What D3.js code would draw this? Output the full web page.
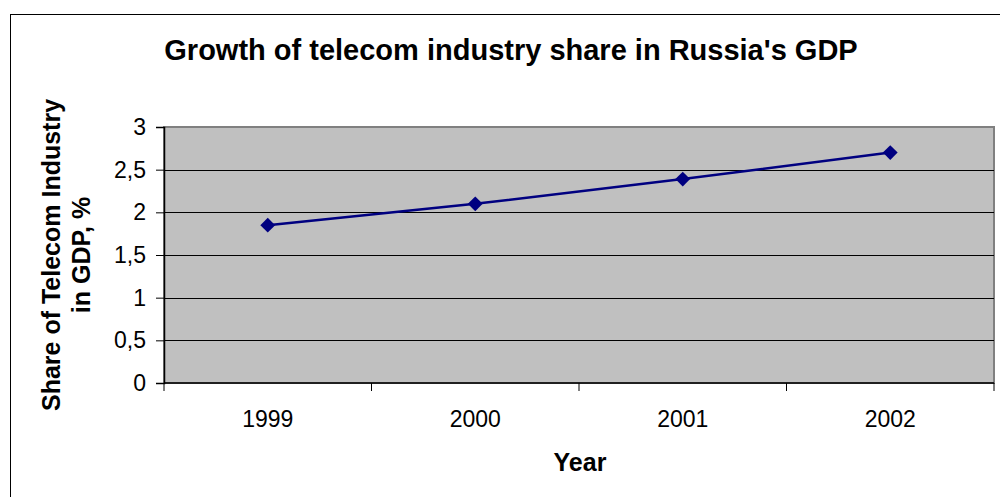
<!DOCTYPE html>
<html>
<head>
<meta charset="utf-8">
<script src="https://cdn.jsdelivr.net/npm/d3@7"></script>
<style>
  body { margin: 0; background: #fff; }
  text { font-family: "Liberation Sans", Arial, sans-serif; fill: #000; }
</style>
</head>
<body>
<script>
var years = ["1999", "2000", "2001", "2002"];
var shares = [1.85, 2.1, 2.39, 2.7];
var yTicks = [0, 0.5, 1, 1.5, 2, 2.5, 3];

var width = 1000, height = 497;
var margin = {top: 127, right: 6, bottom: 114, left: 164};
var plotW = width - margin.left - margin.right;
var plotH = height - margin.top - margin.bottom;

var svg = d3.select("body")
  .append("svg")
  .attr("width", width)
  .attr("height", height);

// outer chart frame
svg.append("rect")
  .attr("x", 10.5).attr("y", 14.5)
  .attr("width", 1000).attr("height", 500)
  .attr("fill", "#fff")
  .attr("stroke", "#000")
  .attr("stroke-width", 1);

var g = svg.append("g")
  .attr("transform", "translate(" + margin.left + "," + margin.top + ")");

var xScale = d3.scaleBand().domain(years).range([0, plotW]);
var yScale = d3.scaleLinear().domain([0, 3]).range([plotH, 0]);

// plot area
g.append("rect")
  .attr("width", plotW).attr("height", plotH)
  .attr("fill", "#c0c0c0")
  .attr("stroke", "#808080")
  .attr("stroke-width", 2);

// gridlines
g.selectAll("line.grid")
  .data(yTicks.slice(1, -1))
  .enter()
  .append("line")
  .attr("class", "grid")
  .attr("x1", 0).attr("x2", plotW)
  .attr("y1", function(d) { return Math.round(yScale(d)) + 0.5; })
  .attr("y2", function(d) { return Math.round(yScale(d)) + 0.5; })
  .attr("stroke", "#000")
  .attr("stroke-width", 1);

// y-axis
var yAxis = g.append("g")
  .call(d3.axisLeft(yScale)
    .tickValues(yTicks)
    .tickSize(8)
    .tickPadding(10)
    .tickFormat(function(d) { return String(d).replace(".", ","); }));
yAxis.select(".domain").attr("stroke", "#000").attr("stroke-width", 1.5);
yAxis.selectAll(".tick line").attr("stroke", "#000");
yAxis.selectAll("text")
  .style("font-size", "23px")
  .style("font-family", "Liberation Sans, Arial, sans-serif")
  .attr("fill", "#000");

// x-axis: ticks between categories
var xAxis = g.append("g")
  .attr("transform", "translate(0," + plotH + ")");
xAxis.append("line")
  .attr("x1", 0).attr("x2", plotW)
  .attr("y1", 0).attr("y2", 0)
  .attr("stroke", "#000").attr("stroke-width", 1.5);
var edges = years.map(function(d) { return xScale(d); }).concat([plotW]);
xAxis.selectAll("line.tick")
  .data(edges)
  .enter()
  .append("line")
  .attr("class", "tick")
  .attr("x1", function(d) { return d; })
  .attr("x2", function(d) { return d; })
  .attr("y1", 0).attr("y2", 8)
  .attr("stroke", "#000");
xAxis.selectAll("text")
  .data(years)
  .enter()
  .append("text")
  .attr("x", function(d) { return xScale(d) + xScale.bandwidth() / 2; })
  .attr("y", 44)
  .attr("text-anchor", "middle")
  .style("font-size", "23px")
  .text(function(d) { return d; });

// line and markers
var line = d3.line()
  .x(function(d, i) { return xScale(years[i]) + xScale.bandwidth() / 2; })
  .y(function(d) { return yScale(d); });

g.append("path")
  .datum(shares)
  .attr("d", line)
  .attr("fill", "none")
  .attr("stroke", "#000080")
  .attr("stroke-width", 2.5);

g.selectAll("path.marker")
  .data(shares)
  .enter()
  .append("path")
  .attr("class", "marker")
  .attr("d", d3.symbol().type(d3.symbolSquare).size(110))
  .attr("transform", function(d, i) {
    return "translate(" + (xScale(years[i]) + xScale.bandwidth() / 2) + "," + yScale(d) + ") rotate(45)";
  })
  .attr("fill", "#000080");

// title
svg.append("text")
  .attr("x", 511).attr("y", 60)
  .attr("text-anchor", "middle")
  .style("font-size", "29px")
  .style("font-weight", "bold")
  .text("Growth of telecom industry share in Russia's GDP");

// x-axis title
svg.append("text")
  .attr("x", 580).attr("y", 471)
  .attr("text-anchor", "middle")
  .style("font-size", "25px")
  .style("font-weight", "bold")
  .text("Year");

// y-axis title
var yt = svg.append("text")
  .attr("transform", "translate(60,255) rotate(-90)")
  .attr("text-anchor", "middle")
  .style("font-size", "25px")
  .style("font-weight", "bold");
yt.append("tspan").attr("x", 0).attr("dy", 0).text("Share of Telecom Industry");
yt.append("tspan").attr("x", 0).attr("dy", 30).text("in GDP, %");
</script>
</body>
</html>
